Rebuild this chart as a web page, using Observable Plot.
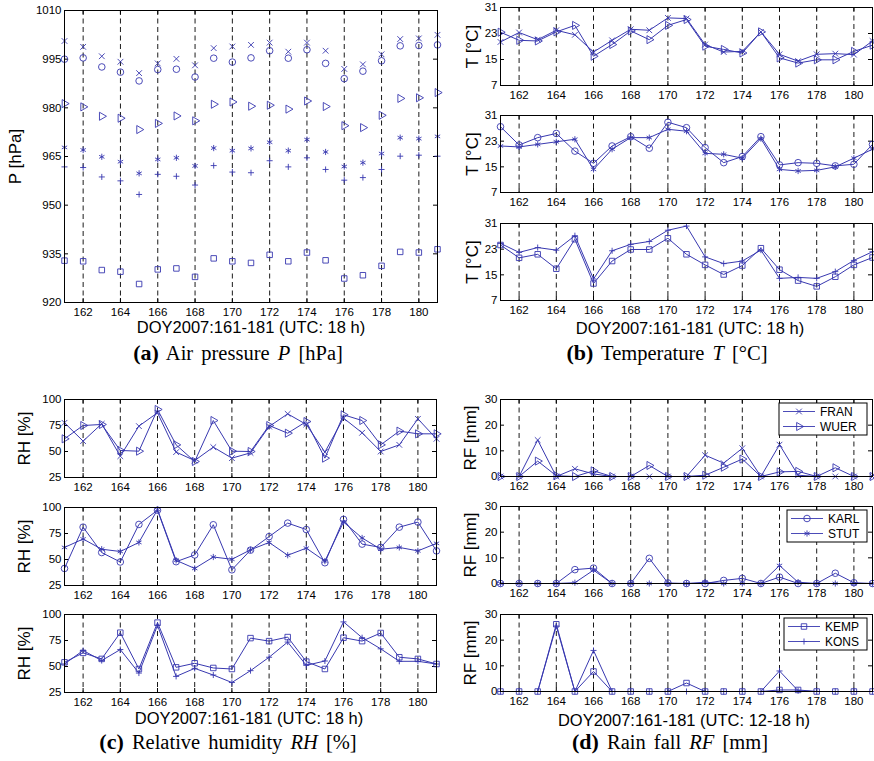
<!DOCTYPE html>
<html><head><meta charset="utf-8">
<script src="https://cdn.jsdelivr.net/npm/d3@7"></script>
<script src="https://cdn.jsdelivr.net/npm/@observablehq/plot@0.6"></script>
<style>
body{margin:0;background:#fff;}
#root{position:relative;width:874px;height:761px;overflow:hidden;font-family:"Liberation Sans",Arial,sans-serif;background:#fff;}
#root svg{position:absolute;}
.xt{position:absolute;font-size:16.5px;transform:translate(-50%,-50%);white-space:nowrap;color:#000;}
.cap{position:absolute;font-family:"Liberation Serif","Times New Roman",serif;font-size:20.5px;word-spacing:3px;transform:translate(-50%,-50%);white-space:nowrap;color:#000;}
.cap b{font-size:22px;}
</style></head><body><div id="root"></div>
<script>
const days = [161,162,163,164,165,166,167,168,169,170,171,172,173,174,175,176,177,178,179,180,181];
const evenDays = [162,164,166,168,170,172,174,176,178,180];
const pTicks = [920,935,950,965,980,995,1010];
const tTicks = [7,15,23,31];
const rhTicks = [25,50,75,100];
const rfTicks = [0,10,20,30];

// Air pressure [hPa]
const P_FRAN = [1000.6,998.8,995.9,994.2,990.7,993.7,995.1,993.1,998.4,998.9,999.4,1000.1,997.3,1000.1,997.6,992.0,993.4,996.5,1001.2,1001.4,1002.5];
const P_KARL = [995.0,995.4,992.6,991.0,988.3,991.8,991.9,989.5,995.3,994.1,995.4,997.6,995.3,997.9,993.7,989.0,991.3,994.5,999.1,999.2,999.4];
const P_WUER = [981.3,980.3,977.4,976.8,973.3,975.2,977.5,976.0,981.1,981.8,980.5,980.8,979.6,982.1,980.4,974.5,973.9,977.7,982.9,983.1,984.7];
const P_STUT = [967.8,967.0,964.9,963.4,959.8,964.1,964.6,962.1,967.6,966.8,967.5,969.4,966.8,970.2,966.4,961.9,963.1,965.9,970.8,970.5,971.2];
const P_KONS = [961.8,961.6,958.7,957.5,953.3,959.5,958.9,956.2,962.2,960.2,960.0,963.7,961.8,964.6,961.0,957.7,958.5,961.0,965.1,965.4,965.1];
const P_KEMP = [932.9,932.7,930.0,929.5,925.7,930.2,930.5,927.9,933.6,932.7,932.2,934.7,932.7,935.4,933.0,927.4,928.4,931.3,935.6,935.4,936.4];

// Temperature [°C]
const T_FRAN = [20.4,23.3,21.1,24.0,22.6,17.3,20.9,24.3,24.0,27.8,27.6,19.6,17.3,17.5,23.5,16.6,14.5,16.6,16.8,16.5,20.7];
const T_WUER = [23.4,20.9,20.7,23.5,25.5,16.0,19.6,23.8,21.1,25.5,27.3,19.1,18.1,17.0,23.5,15.5,13.9,14.9,14.9,17.5,19.4];
const T_KARL = [27.5,21.8,24.1,25.4,19.9,16.1,21.5,24.4,20.8,28.9,27.2,21.0,16.3,18.2,24.4,15.6,16.3,16.1,15.3,15.8,22.0];
const T_STUT = [21.5,21.2,22.0,22.8,23.6,14.2,20.5,24.1,24.1,26.7,26.1,19.2,18.9,17.7,23.8,14.2,13.7,13.9,15.0,17.7,20.5];
const T_KONS = [24.8,22.0,23.5,22.7,27.2,13.7,22.5,24.5,25.4,28.9,30.2,20.6,18.5,19.3,22.7,13.9,14.2,13.9,16.0,19.5,22.2];
const T_KEMP = [24.3,20.3,21.4,16.9,26.1,12.3,19.3,22.9,22.9,26.4,21.4,18.1,15.1,17.9,23.3,16.6,13.2,11.4,14.4,18.1,20.4];

// Relative humidity [%]
const RH_FRAN = [77.6,60.0,76.6,45.5,74.4,87.2,49.4,41.3,54.2,43.6,48.7,74.0,86.2,76.0,49.4,82.1,68.0,50.0,56.4,81.4,62.2];
const RH_WUER = [62.2,75.0,76.0,51.0,50.3,90.4,56.4,40.4,79.8,50.3,50.0,75.0,67.6,78.8,43.6,85.3,79.8,56.4,69.6,67.0,67.0];
const RH_KARL = [41.4,81.1,56.7,47.6,83.7,97.4,47.9,54.4,83.4,40.1,59.0,72.0,85.0,78.8,46.9,88.6,64.8,61.6,81.1,86.0,58.3];
const RH_STUT = [61.6,69.7,59.9,57.7,66.4,98.0,49.2,41.4,52.4,50.2,59.3,66.4,54.1,60.9,48.5,86.0,70.7,59.9,61.6,58.3,65.5];
const RH_KEMP = [54.0,63.1,57.3,82.5,47.6,92.2,49.2,53.1,48.6,47.6,77.3,74.4,78.3,54.7,47.6,77.7,74.4,82.2,58.9,57.3,52.4];
const RH_KONS = [52.4,65.4,55.7,66.3,43.7,89.6,40.5,48.2,41.8,34.6,46.0,58.9,73.5,51.1,55.3,92.9,77.7,67.0,55.0,55.0,52.4];

// Rain fall [mm]
const RF_FRAN = [0,0,14.2,0,3.0,1.0,0,0,0,0,0,8.3,5.2,11.0,0,12.4,0.5,0,0,0,0];
const RF_WUER = [0,0,6.0,0.3,0,2.2,0,0,4.3,0,0,0.5,3.6,6.8,0,1.8,2.0,0,3.4,0,0];
const RF_KARL = [0,0,0,0,5.4,6.0,0,0,9.8,0.2,0,0,1.2,2.0,0,2.5,0,0,4.0,0.3,0];
const RF_STUT = [0,0,0,0,0.3,5.2,0,0,0,0,0,0.5,0,0,0,7.0,0.5,0,0,0,0];
const RF_KEMP = [0,0,0,26.2,0,7.8,0,0,0,0,3.3,0,0,0,0,0.6,0.6,0,0,0,0];
const RF_KONS = [0,0,0,25.5,0,16.0,0,0,0,0,0,0,0,0,0,8.0,0.3,0,0,0,0];

const BLUE = "#3838b0";
const SYM = {FRAN:"times", WUER:"triangle", KARL:"circle", STUT:"asterisk", KONS:"plus", KEMP:"square"};
const D3SYM = {times:d3.symbolTimes, triangle:d3.symbolTriangle, circle:d3.symbolCircle, asterisk:d3.symbolAsterisk, plus:d3.symbolPlus, square:d3.symbolSquare};
const R = {times:2.7, triangle:3.0, circle:3.3, asterisk:2.9, plus:2.1, square:3.1};

const root = document.getElementById("root");
const ML = 62, MR = 4, MT = 6, MB = 22;

function legendMark(names, width) {
  return (index, scales, values, dims) => {
    const g = d3.create("svg:g");
    const x1 = dims.width - dims.marginRight - 5;
    const x0 = x1 - width;
    const y0 = dims.marginTop + 4;
    g.append("rect").attr("x", x0).attr("y", y0).attr("width", width).attr("height", 32)
      .attr("fill", "white").attr("stroke", "black").attr("stroke-width", 1);
    names.forEach((n, i) => {
      const cy = y0 + 8.5 + i * 15;
      const s = SYM[n];
      g.append("line").attr("x1", x0 + 4).attr("x2", x0 + 36).attr("y1", cy).attr("y2", cy)
        .attr("stroke", BLUE).attr("stroke-width", 0.9);
      g.append("path").attr("d", d3.symbol(D3SYM[s], R[s] * R[s] * Math.PI)())
        .attr("transform", `translate(${x0 + 20},${cy}) rotate(${s === "triangle" ? 90 : 0})`)
        .attr("fill", "none").attr("stroke", BLUE).attr("stroke-width", 0.9);
      g.append("text").attr("x", x0 + 41).attr("y", cy).attr("dy", "0.35em")
        .attr("text-anchor", "start")
        .attr("font-size", 12).attr("fill", "#000").text(n);
    });
    return g.node();
  };
}

function panel({frame, yDomain, yTicks, yTitle, titleOffset, series, lines = true, legend = null}) {
  const [fx0, fx1, fy0, fy1] = frame;
  const w = fx1 - fx0, h = fy1 - fy0;
  const marks = [];
  marks.push(Plot.ruleX(evenDays, {x: d => d, stroke: "#000", strokeDasharray: "5,3.5", strokeWidth: 0.9}));
  marks.push(Plot.tickY(yTicks, {y: d => d, insetRight: w - 4, stroke: "#000"}));
  marks.push(Plot.tickY(yTicks, {y: d => d, insetLeft: w - 4, stroke: "#000"}));
  marks.push(Plot.tickX(evenDays, {x: d => d, insetTop: h - 4, stroke: "#000"}));
  marks.push(Plot.tickX(evenDays, {x: d => d, insetBottom: h - 4, stroke: "#000"}));
  for (const s of series) {
    const data = days.map((d, i) => ({day: d, v: s.values[i]}));
    const sym = SYM[s.name];
    if (lines) marks.push(Plot.line(data, {x: "day", y: "v", stroke: BLUE, strokeWidth: 1}));
    marks.push(Plot.dot(data, {x: "day", y: "v", symbol: sym, r: R[sym],
      rotate: sym === "triangle" ? 90 : 0,
      fill: "none", stroke: BLUE, strokeWidth: 0.9}));
  }
  marks.push(Plot.frame({stroke: "#000", strokeWidth: 1}));
  marks.push(Plot.axisX(evenDays, {anchor: "bottom", tickSize: 0, tickPadding: 5, tickFormat: d => String(d), label: null}));
  marks.push(Plot.axisY(yTicks, {anchor: "left", tickSize: 0, tickPadding: 3, tickFormat: d => String(d), label: null}));
  marks.push(Plot.text([yTitle], {frameAnchor: "left", text: d => d, rotate: -90, dx: -titleOffset, fontSize: 17, textAnchor: "middle", fill: "#000"}));
  if (legend) marks.push(legendMark(legend.names, legend.width));
  const svg = Plot.plot({
    width: w + ML + MR, height: h + MT + MB,
    marginLeft: ML, marginRight: MR, marginTop: MT, marginBottom: MB,
    style: {background: "transparent", fontFamily: "'Liberation Sans', Arial, sans-serif", fontSize: "11.5px", color: "#000", overflow: "visible"},
    x: {domain: [161, 181]},
    y: {domain: yDomain},
    marks
  });
  svg.style.left = (fx0 - ML) + "px";
  svg.style.top = (fy0 - MT) + "px";
  root.appendChild(svg);
}

function html(cls, x, y, content) {
  const d = document.createElement("div");
  d.className = cls;
  d.style.left = x + "px";
  d.style.top = y + "px";
  d.innerHTML = content;
  root.appendChild(d);
}

// (a) Air pressure
panel({frame: [64, 437, 10, 302], yDomain: [920, 1010], yTicks: pTicks, yTitle: "P [hPa]", titleOffset: 49, lines: false,
  series: [{name: "FRAN", values: P_FRAN}, {name: "KARL", values: P_KARL}, {name: "WUER", values: P_WUER},
           {name: "STUT", values: P_STUT}, {name: "KONS", values: P_KONS}, {name: "KEMP", values: P_KEMP}]});

// (b) Temperature
panel({frame: [500, 872, 7, 85], yDomain: [7, 31], yTicks: tTicks, yTitle: "T [°C]", titleOffset: 28,
  series: [{name: "FRAN", values: T_FRAN}, {name: "WUER", values: T_WUER}]});
panel({frame: [500, 872, 115, 192], yDomain: [7, 31], yTicks: tTicks, yTitle: "T [°C]", titleOffset: 28,
  series: [{name: "KARL", values: T_KARL}, {name: "STUT", values: T_STUT}]});
panel({frame: [500, 872, 223, 300], yDomain: [7, 31], yTicks: tTicks, yTitle: "T [°C]", titleOffset: 28,
  series: [{name: "KONS", values: T_KONS}, {name: "KEMP", values: T_KEMP}]});

// (c) Relative humidity
panel({frame: [64, 436, 399, 477], yDomain: [25, 100], yTicks: rhTicks, yTitle: "RH [%]", titleOffset: 40,
  series: [{name: "FRAN", values: RH_FRAN}, {name: "WUER", values: RH_WUER}]});
panel({frame: [64, 436, 507, 585], yDomain: [25, 100], yTicks: rhTicks, yTitle: "RH [%]", titleOffset: 40,
  series: [{name: "KARL", values: RH_KARL}, {name: "STUT", values: RH_STUT}]});
panel({frame: [64, 436, 614, 692], yDomain: [25, 100], yTicks: rhTicks, yTitle: "RH [%]", titleOffset: 40,
  series: [{name: "KEMP", values: RH_KEMP}, {name: "KONS", values: RH_KONS}]});

// (d) Rain fall
panel({frame: [500, 872, 399, 476], yDomain: [0, 30], yTicks: rfTicks, yTitle: "RF [mm]", titleOffset: 30,
  series: [{name: "FRAN", values: RF_FRAN}, {name: "WUER", values: RF_WUER}], legend: {names: ["FRAN", "WUER"], width: 88}});
panel({frame: [500, 872, 506, 583], yDomain: [0, 30], yTicks: rfTicks, yTitle: "RF [mm]", titleOffset: 30,
  series: [{name: "KARL", values: RF_KARL}, {name: "STUT", values: RF_STUT}], legend: {names: ["KARL", "STUT"], width: 80}});
panel({frame: [500, 872, 614, 691], yDomain: [0, 30], yTicks: rfTicks, yTitle: "RF [mm]", titleOffset: 30,
  series: [{name: "KEMP", values: RF_KEMP}, {name: "KONS", values: RF_KONS}], legend: {names: ["KEMP", "KONS"], width: 83}});

// axis titles
html("xt", 251, 327, "DOY2007:161-181 (UTC: 18 h)");
html("xt", 690, 328, "DOY2007:161-181 (UTC: 18 h)");
html("xt", 249, 718, "DOY2007:161-181 (UTC: 18 h)");
html("xt", 684, 720, "DOY2007:161-181 (UTC: 12-18 h)");
// captions
html("cap", 238, 353, "<b>(a)</b> Air pressure <i>P</i> [hPa]");
html("cap", 667, 353, "<b>(b)</b> Temperature <i>T</i> [°C]");
html("cap", 228, 742, "<b>(c)</b> Relative humidity <i>RH</i> [%]");
html("cap", 670, 742, "<b>(d)</b> Rain fall <i>RF</i> [mm]");
</script></body></html>
